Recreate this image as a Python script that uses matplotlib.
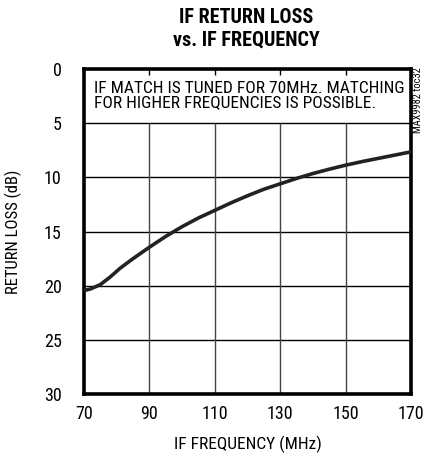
import matplotlib.pyplot as plt

# curve
freq_mhz = [70, 72, 75, 78, 81, 85, 90, 95, 100, 105, 110, 115, 120, 125, 130,
            135, 140, 145, 150, 155, 160, 165, 170]
return_loss_db = [20.45, 20.3, 19.9, 19.2, 18.4, 17.5, 16.45, 15.45, 14.55, 13.75,
                  13.05, 12.35, 11.7, 11.1, 10.6, 10.1, 9.65, 9.25, 8.88, 8.55,
                  8.25, 7.95, 7.65]

x_ticks = [70, 90, 110, 130, 150, 170]
y_ticks = [0, 5, 10, 15, 20, 25, 30]

plt.rcParams['font.family'] = ['Roboto Condensed', 'DejaVu Sans']

fig = plt.figure(figsize=(4.23, 4.55), dpi=100)
ax = fig.add_axes([0.1986, 0.134, 0.773, 0.7144])

ax.set_xlim(70, 170)
ax.set_ylim(30, 0)

# grid: horizontal lines across, vertical lines only below the note box
for y in y_ticks[1:-1]:
    ax.axhline(y, color='black', lw=1.0, zorder=1)
for x in x_ticks[1:-1]:
    ax.vlines(x, 5, 30, color='#444444', lw=1.0, zorder=1)

ax.plot(freq_mhz, return_loss_db, color='#222222', lw=2.6, zorder=3,
        solid_capstyle='butt')

ax.set_xticks(x_ticks)
ax.set_yticks(y_ticks)
ax.tick_params(axis='x', which='both', bottom=False, top=True, direction='in',
               length=4, width=1, labelsize=13, pad=8)
ax.tick_params(axis='y', length=0, labelsize=13, pad=16)
for s in ax.spines.values():
    s.set_linewidth(2.6)

ax.set_xlabel('IF FREQUENCY (MHz)', fontsize=12.5, labelpad=9)
ax.set_ylabel('RETURN LOSS (dB)', fontsize=12, labelpad=16)

ax.text(73.2, 1.1, 'IF MATCH IS TUNED FOR 70MHz. MATCHING\nFOR HIGHER FREQUENCIES IS POSSIBLE.',
        fontsize=12.5, va='top', ha='left', linespacing=0.95)

fig.text(0.582, 0.982, 'IF RETURN LOSS\nvs. IF FREQUENCY', ha='center', va='top',
         fontsize=14.5, fontweight='heavy', linespacing=1.2)
fig.text(0.989, 0.853, 'MAX9982 toc32', rotation=90, ha='center', va='top', fontsize=7.5)

fig.savefig('out.png', dpi=100)
